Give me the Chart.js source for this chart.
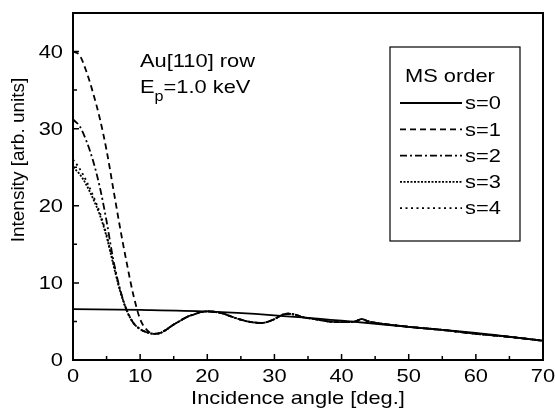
<!DOCTYPE html>
<html>
<head>
<meta charset="utf-8">
<script src="https://cdn.jsdelivr.net/npm/chart.js@4"></script>
<style>
html,body{margin:0;padding:0;background:#fff;}
#wrap{width:555px;height:414px;position:relative;}
</style>
</head>
<body>
<div id="wrap"><canvas id="c" width="555" height="414"></canvas></div>
<script>
// ---- data ----
const xS0 = [0, 10, 20, 30, 40, 50, 60, 70];
const s0 = [6.6, 6.5, 6.3, 5.8, 5.1, 4.3, 3.5, 2.5];

const xMS = [0,1,2,3,4,5,6,7,8,9,10,11,12,13,14,15,16,17,18,19,20,22,24,26,28,30,31,32,33,34,36,38,40,42,43,44,46,48,50,55,60,65,70];
const s1 = [40.0,39.5,37.4,34.6,31.3,27.2,22.2,17.2,12.6,8.4,5.3,3.9,3.4,3.5,4.0,4.6,5.1,5.6,5.9,6.2,6.3,6.1,5.5,5.0,4.8,5.3,5.8,6.0,5.9,5.6,5.3,5.0,4.9,5.0,5.3,5.0,4.7,4.5,4.3,3.9,3.4,3.0,2.5];
const s2 = [31.2,30.3,28.4,25.8,22.4,18.0,13.0,9.2,6.5,4.8,4.0,3.6,3.4,3.5,4.0,4.6,5.1,5.6,5.9,6.2,6.3,6.1,5.5,5.0,4.8,5.3,5.8,6.0,5.9,5.6,5.3,5.0,4.9,5.0,5.3,5.0,4.7,4.5,4.3,3.9,3.4,3.0,2.5];
const s3 = [25.0,24.1,22.7,20.9,18.8,16.0,12.4,9.0,6.4,4.8,4.0,3.6,3.4,3.5,4.0,4.6,5.1,5.6,5.9,6.2,6.3,6.1,5.5,5.0,4.8,5.3,5.8,6.0,5.9,5.6,5.3,5.0,4.9,5.0,5.3,5.0,4.7,4.5,4.3,3.9,3.4,3.0,2.5];
const s4 = [26.0,24.8,23.2,21.3,19.1,16.2,12.6,9.1,6.4,4.8,4.0,3.6,3.4,3.5,4.0,4.6,5.1,5.6,5.9,6.2,6.3,6.1,5.5,5.0,4.8,5.3,5.8,6.0,5.9,5.6,5.3,5.0,4.9,5.0,5.3,5.0,4.7,4.5,4.3,3.9,3.4,3.0,2.5];

const seriesLabels = ['s=0', 's=1', 's=2', 's=3', 's=4'];
const legendTitle = 'MS order';
const xTicks = [0, 10, 20, 30, 40, 50, 60, 70];
const yTicks = [0, 10, 20, 30, 40];
const xTitle = 'Incidence angle [deg.]';
const yTitle = 'Intensity [arb. units]';
const noteLine1 = 'Au[110] row';
const noteLine2 = ['E', 'p', '=1.0 keV'];

// ---- styles ----
const FONT = '"Liberation Sans", Arial, sans-serif';
const SX = 1.15; // horizontal stretch of the reference's lettering
const dashes = [[], [6, 4], [7, 3, 2, 3], [2, 1.5], [2, 3.5]];
const pts = (xs, ys) => xs.map((x, i) => ({x: x, y: ys[i]}));
const allData = [pts(xS0, s0), pts(xMS, s1), pts(xMS, s2), pts(xMS, s3), pts(xMS, s4)];

const datasets = allData.map((d, i) => ({
  label: seriesLabels[i],
  data: d,
  borderColor: '#000',
  borderWidth: 1.8,
  borderDash: dashes[i],
  pointRadius: 0,
  fill: false,
  cubicInterpolationMode: 'monotone'
}));

function txt(ctx, s, x, y, align, baseline, size, sx, rot) {
  ctx.save();
  ctx.translate(x, y);
  if (rot) ctx.rotate(rot);
  ctx.scale(sx, 1);
  ctx.font = size + 'px ' + FONT;
  ctx.textAlign = align;
  ctx.textBaseline = baseline;
  ctx.fillStyle = '#000';
  ctx.fillText(s, 0, 0);
  const w = ctx.measureText(s).width * sx;
  ctx.restore();
  return w;
}

const decor = {
  id: 'decor',
  afterDraw(chart) {
    const ctx = chart.ctx, a = chart.chartArea;
    const xs = chart.scales.x, ys = chart.scales.y;
    ctx.save();
    // frame
    ctx.strokeStyle = '#000';
    ctx.lineWidth = 2;
    ctx.setLineDash([]);
    ctx.strokeRect(a.left, a.top, a.right - a.left, a.bottom - a.top);
    // inward ticks
    ctx.lineWidth = 1.5;
    ctx.beginPath();
    xTicks.forEach((v, i) => {
      const p = xs.getPixelForValue(v);
      ctx.moveTo(p, a.bottom); ctx.lineTo(p, a.bottom - 6);
      if (i < xTicks.length - 1) {
        const m = xs.getPixelForValue((v + xTicks[i + 1]) / 2);
        ctx.moveTo(m, a.bottom); ctx.lineTo(m, a.bottom - 4);
      }
    });
    yTicks.forEach((v) => {
      const p = ys.getPixelForValue(v);
      ctx.moveTo(a.left, p); ctx.lineTo(a.left + 6, p);
      const m = ys.getPixelForValue(v + 5);
      ctx.moveTo(a.left, m); ctx.lineTo(a.left + 4, m);
    });
    ctx.stroke();
    ctx.restore();

    // tick labels
    xTicks.forEach(v => txt(ctx, String(v), xs.getPixelForValue(v), 377, 'center', 'middle', 19, SX));
    yTicks.forEach(v => txt(ctx, String(v), 63, ys.getPixelForValue(v) + 1, 'right', 'middle', 19, SX));
    // axis titles
    txt(ctx, xTitle, 298, 399, 'center', 'middle', 19, SX);
    txt(ctx, yTitle, 19, 160, 'center', 'middle', 19, 1, -Math.PI / 2);

    // annotation text
    txt(ctx, noteLine1, 140, 67, 'left', 'alphabetic', 19, SX);
    let x = 140;
    x += txt(ctx, noteLine2[0], x, 93, 'left', 'alphabetic', 19, SX);
    x += txt(ctx, noteLine2[1], x, 101, 'left', 'alphabetic', 14, SX);
    txt(ctx, noteLine2[2], x, 93, 'left', 'alphabetic', 19, SX);

    // legend box
    ctx.save();
    const bx = 390, by = 47, bw = 130, bh = 194;
    ctx.strokeStyle = '#000';
    ctx.lineWidth = 1.2;
    ctx.strokeRect(bx, by, bw, bh);
    ctx.restore();
    txt(ctx, legendTitle, 405, 82, 'left', 'alphabetic', 19, SX);
    chart.data.datasets.forEach((ds, i) => {
      const y = 103 + i * 26.3;
      ctx.save();
      ctx.strokeStyle = '#000';
      ctx.lineWidth = ds.borderWidth;
      ctx.setLineDash(ds.borderDash);
      ctx.beginPath();
      ctx.moveTo(400, y); ctx.lineTo(462, y);
      ctx.stroke();
      ctx.restore();
      txt(ctx, ds.label, 465, y + 1, 'left', 'middle', 19, SX);
    });
  }
};

new Chart(document.getElementById('c'), {
  type: 'line',
  data: {datasets: datasets},
  options: {
    responsive: false,
    animation: false,
    devicePixelRatio: 1,
    layout: {padding: {top: 13, right: 12, left: 0, bottom: 0}},
    plugins: {legend: {display: false}, tooltip: {enabled: false}},
    scales: {
      x: {
        type: 'linear', min: 0, max: 70,
        afterBuildTicks: s => { s.ticks = xTicks.map(v => ({value: v})); },
        afterFit: s => { s.height = 54; s.paddingLeft = 0; s.paddingRight = 0; },
        grid: {display: false, drawTicks: false},
        border: {display: false},
        ticks: {display: false},
        title: {display: false, text: xTitle}
      },
      y: {
        type: 'linear', min: 0, max: 45,
        afterBuildTicks: s => { s.ticks = yTicks.map(v => ({value: v})); },
        afterFit: s => { s.width = 73; s.paddingTop = 0; s.paddingBottom = 0; },
        grid: {display: false, drawTicks: false},
        border: {display: false},
        ticks: {display: false},
        title: {display: false, text: yTitle}
      }
    }
  },
  plugins: [decor]
});
</script>
</body>
</html>
